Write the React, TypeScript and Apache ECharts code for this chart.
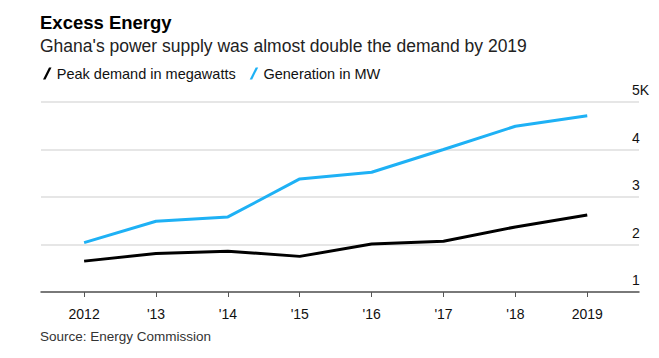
import React, { useEffect, useRef } from "react";
import * as echarts from "echarts";

// Years and their axis labels
const years = [2012, 2013, 2014, 2015, 2016, 2017, 2018, 2019];
const yearLabels = ["2012", "'13", "'14", "'15", "'16", "'17", "'18", "2019"];

// Megawatts
const peakDemand = [1650, 1810, 1860, 1750, 2010, 2070, 2370, 2620];
const generation = [2040, 2490, 2580, 3380, 3520, 4000, 4490, 4710];

const yTicks = [1000, 2000, 3000, 4000, 5000];

const FONT = "'Liberation Sans', Arial, sans-serif";
const BLUE = "#1eb1f5";
const SLASH = "path://M6,0 L8.5,0 L2.5,12 L0,12 Z";

export default function App() {
  const ref = useRef<HTMLDivElement>(null);

  useEffect(() => {
    if (!ref.current) return;
    const chart = echarts.init(ref.current, undefined, { renderer: "svg" });
    chart.setOption({
      animation: false,
      backgroundColor: "#ffffff",
      textStyle: { fontFamily: FONT },
      title: [
        {
          text: "Excess Energy",
          left: 35,
          top: 8,
          textStyle: { fontSize: 18.5, fontWeight: "bold", color: "#000", fontFamily: FONT },
        },
        {
          text: "Ghana's power supply was almost double the demand by 2019",
          left: 35,
          top: 32,
          textStyle: { fontSize: 17.5, fontWeight: "normal", color: "#222", fontFamily: FONT },
        },
        {
          text: "Source: Energy Commission",
          left: 35,
          top: 324,
          textStyle: { fontSize: 13.5, fontWeight: "normal", color: "#333", fontFamily: FONT },
        },
      ],
      legend: {
        left: 38,
        top: 61,
        itemWidth: 9,
        itemHeight: 12,
        itemGap: 14,
        textStyle: { fontSize: 14.5, color: "#111", fontFamily: FONT },
        data: [
          { name: "Peak demand in megawatts", icon: SLASH, itemStyle: { color: "#000" } },
          { name: "Generation in MW", icon: SLASH, itemStyle: { color: BLUE } },
        ],
      },
      grid: { left: 41, right: 20, top: 102, bottom: 66 },
      xAxis: {
        type: "value",
        min: 2011.4,
        max: 2019.72,
        splitLine: { show: false },
        axisLine: { show: true, lineStyle: { color: "#555", width: 1.5 } },
        axisTick: {
          show: true,
          customValues: years,
          length: 5,
          lineStyle: { color: "#555", width: 1 },
        },
        axisLabel: {
          customValues: years,
          margin: 15,
          fontSize: 14,
          color: "#111",
          fontFamily: FONT,
          formatter: (v: number) => yearLabels[years.indexOf(Math.round(v))] ?? "",
        },
      },
      yAxis: {
        type: "value",
        position: "right",
        min: 1000,
        max: 5000,
        interval: 1000,
        axisLine: { show: false },
        axisTick: { show: false },
        splitLine: { show: true, lineStyle: { color: "#e6e6e6", width: 2 } },
        axisLabel: {
          customValues: yTicks,
          margin: -7,
          align: "left",
          verticalAlign: "bottom",
          padding: [0, 0, 5, 0],
          fontSize: 14,
          color: "#111",
          fontFamily: FONT,
          formatter: (v: number) => (v === 5000 ? "5K" : String(v / 1000)),
        },
      },
      series: [
        {
          name: "Peak demand in megawatts",
          type: "line",
          data: years.map((y, i) => [y, peakDemand[i]]),
          showSymbol: false,
          lineStyle: { color: "#000", width: 3 },
          itemStyle: { color: "#000" },
          z: 3,
        },
        {
          name: "Generation in MW",
          type: "line",
          data: years.map((y, i) => [y, generation[i]]),
          showSymbol: false,
          lineStyle: { color: BLUE, width: 3 },
          itemStyle: { color: BLUE },
          z: 3,
        },
      ],
    });
    return () => chart.dispose();
  }, []);

  return <div ref={ref} style={{ width: 659, height: 358, position: "absolute", left: 0, top: 0 }} />;
}
